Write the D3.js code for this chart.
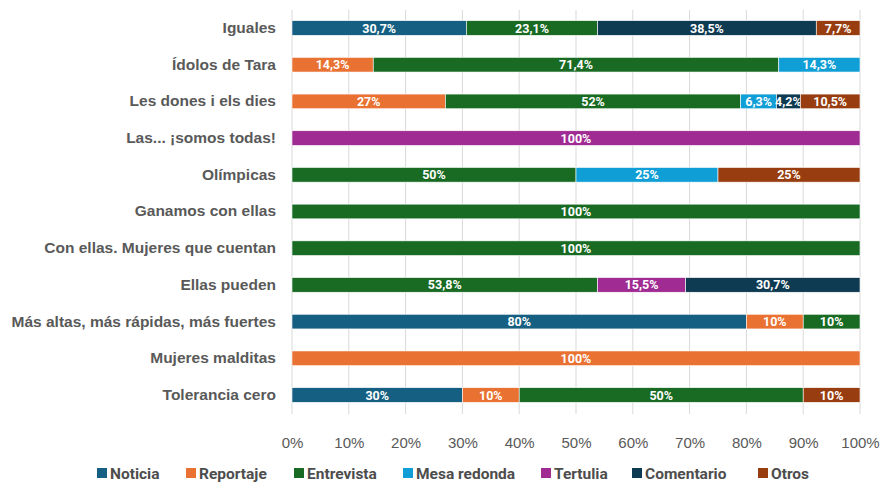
<!DOCTYPE html>
<html>
<head>
<meta charset="utf-8">
<script src="https://cdn.jsdelivr.net/npm/d3@7"></script>
<style>
  body { margin: 0; background: #fff; }
  svg { display: block; font-family: "Roboto", sans-serif; }
</style>
</head>
<body>
<script>
var categories = [
  "Iguales", "Ídolos de Tara", "Les dones i els dies", "Las... ¡somos todas!",
  "Olímpicas", "Ganamos con ellas", "Con ellas. Mujeres que cuentan",
  "Ellas pueden ", "Más altas, más rápidas, más fuertes", "Mujeres malditas",
  "Tolerancia cero"
];
var seriesNames = ["Noticia", "Reportaje", "Entrevista", "Mesa redonda", "Tertulia", "Comentario", "Otros"];
var colors = ["#156082", "#e97132", "#196b24", "#0f9ed5", "#a02b93", "#0e3a52", "#983d10"];

// percentage per category, one array per series
var noticia     = [30.7, 0,    0,   0,   0,  0,   0,   0,    80, 0,   30];
var reportaje   = [0,    14.3, 27,  0,   0,  0,   0,   0,    10, 100, 10];
var entrevista  = [23.1, 71.4, 52,  0,   50, 100, 100, 53.8, 10, 0,   50];
var mesaRedonda = [0,    14.3, 6.3, 0,   25, 0,   0,   0,    0,  0,   0];
var tertulia    = [0,    0,    0,   100, 0,  0,   0,   15.5, 0,  0,   0];
var comentario  = [38.5, 0,    4.2, 0,   0,  0,   0,   30.7, 0,  0,   0];
var otros       = [7.7,  0,    10.5, 0,  25, 0,   0,   0,    0,  0,   10];
var ticks = [0, 10, 20, 30, 40, 50, 60, 70, 80, 90, 100];

var seriesValues = [noticia, reportaje, entrevista, mesaRedonda, tertulia, comentario, otros];

var width = 883, height = 483;
var svg = d3.select("body").append("svg")
    .attr("width", width)
    .attr("height", height);

var x = d3.scaleLinear().domain([0, 100]).range([292, 860]);
var y = d3.scaleBand().domain(categories).range([9.65, 413.35])
    .paddingInner(0.6).paddingOuter(0.3);

// gridlines
svg.append("g").selectAll("line")
  .data(ticks)
  .join("line")
    .attr("x1", function(d) { return x(d); })
    .attr("x2", function(d) { return x(d); })
    .attr("y1", 10)
    .attr("y2", 414)
    .attr("stroke", "#d9d9d9")
    .attr("stroke-width", 1);

// stack the data
var rows = categories.map(function(c, i) {
  var r = { cat: c };
  seriesNames.forEach(function(s, j) { r[s] = seriesValues[j][i]; });
  return r;
});
var stacked = d3.stack().keys(seriesNames)(rows);

function fmt(v) { return String(v).replace(".", ",") + "%"; }

var layers = svg.append("g").selectAll("g")
  .data(stacked)
  .join("g")
    .attr("fill", function(d, i) { return colors[i]; });

layers.selectAll("rect")
  .data(function(d) { return d.filter(function(p) { return p[1] - p[0] > 0; }); })
  .join("rect")
    .attr("x", function(d) { return x(d[0]); })
    .attr("y", function(d) { return y(d.data.cat); })
    .attr("width", function(d) { return x(d[1]) - x(d[0]); })
    .attr("height", y.bandwidth())
    .attr("stroke", "#fff")
    .attr("stroke-width", 0.6);

layers.selectAll("text")
  .data(function(d) { return d.filter(function(p) { return p[1] - p[0] > 0; }); })
  .join("text")
    .attr("x", function(d) { return (x(d[0]) + x(d[1])) / 2; })
    .attr("y", function(d) { return y(d.data.cat) + y.bandwidth() / 2; })
    .attr("dy", "0.36em")
    .attr("text-anchor", "middle")
    .attr("fill", "#fff")
    .attr("font-size", "12.5px")
    .attr("font-weight", "bold")
    .text(function(d) { return fmt(+(d[1] - d[0]).toFixed(1)); });

// y axis labels
var yAxis = d3.axisLeft(y).tickSize(0).tickPadding(16);
var yg = svg.append("g")
    .attr("transform", "translate(292,0)")
    .call(yAxis);
yg.select(".domain").remove();
yg.selectAll("text")
    .attr("fill", "#595959")
    .attr("font-size", "15.5px")
    .attr("font-weight", "bold")
    .attr("font-family", null);

// x axis labels
var xAxis = d3.axisBottom(x).tickValues(ticks).tickSize(0).tickPadding(16)
    .tickFormat(function(d) { return d + "%"; });
var xg = svg.append("g")
    .attr("transform", "translate(0,421)")
    .call(xAxis);
xg.select(".domain").remove();
xg.selectAll("text")
    .attr("fill", "#595959")
    .attr("font-size", "15px")
    .attr("font-family", null);

// legend
var legendX = [97, 186, 294, 403, 541, 632, 758];
var legend = svg.append("g").selectAll("g")
  .data(seriesNames)
  .join("g")
    .attr("transform", function(d, i) { return "translate(" + legendX[i] + ",473)"; });
legend.append("rect")
    .attr("x", 0).attr("y", -5)
    .attr("width", 10).attr("height", 10)
    .attr("fill", function(d, i) { return colors[i]; });
legend.append("text")
    .attr("x", 13)
    .attr("dy", "0.36em")
    .attr("fill", "#4d4d4d")
    .attr("font-size", "15.5px")
    .attr("font-weight", "bold")
    .text(function(d) { return d; });
</script>
</body>
</html>
